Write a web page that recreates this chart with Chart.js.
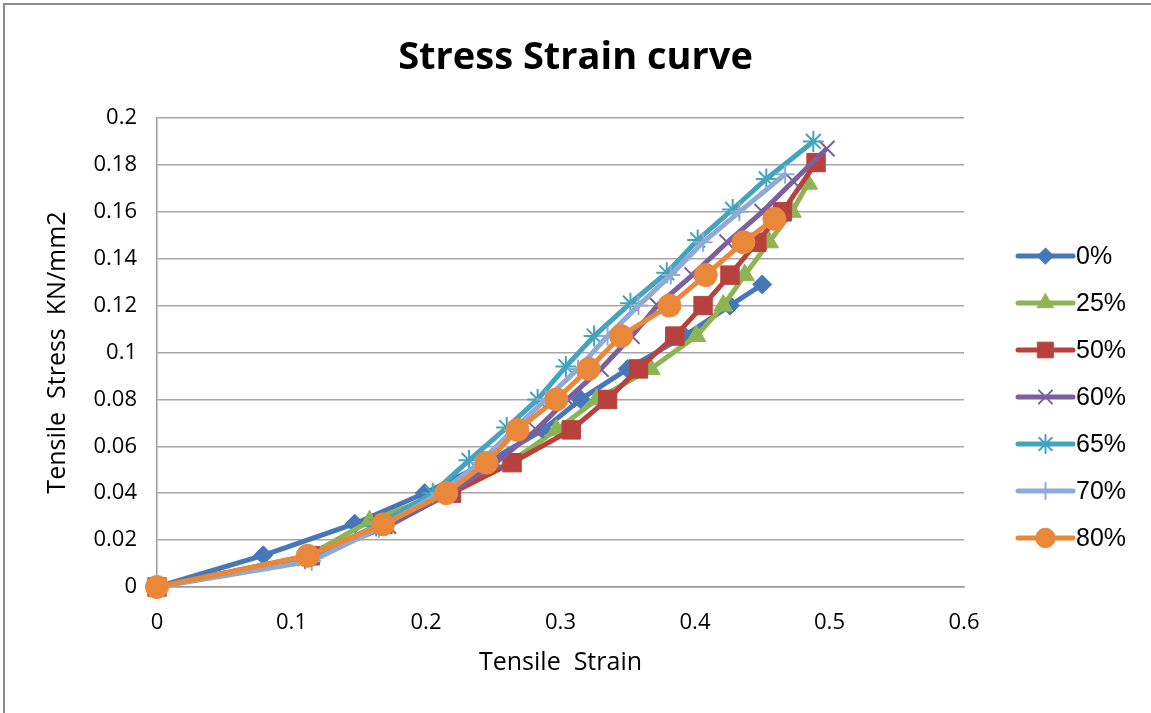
<!DOCTYPE html>
<html>
<head>
<meta charset="utf-8">
<script src="https://cdn.jsdelivr.net/npm/chart.js@4/dist/chart.umd.min.js"></script>
<style>
  html, body { margin: 0; padding: 0; background: #fff; }
  #wrap { width: 1151px; height: 713px; }
</style>
</head>
<body>
<div id="wrap"><canvas id="stressChart" width="1151" height="713"></canvas></div>
<script>
// series names
const seriesNames = ['0%', '25%', '50%', '60%', '65%', '70%', '80%'];

// strain (x) and stress (y)
const strain0 = [0, 0.079, 0.147, 0.199, 0.245, 0.287, 0.315, 0.350, 0.392, 0.426, 0.450];
const stress0 = [0, 0.0135, 0.027, 0.040, 0.053, 0.067, 0.080, 0.093, 0.107, 0.120, 0.129];

const strain25 = [0, 0.112, 0.158, 0.212, 0.262, 0.297, 0.327, 0.367, 0.401, 0.421, 0.437, 0.455, 0.472, 0.484];
const stress25 = [0, 0.0133, 0.028, 0.040, 0.053, 0.067, 0.080, 0.093, 0.107, 0.120, 0.133, 0.147, 0.160, 0.172];

const strain50 = [0, 0.114, 0.168, 0.219, 0.264, 0.308, 0.335, 0.358, 0.385, 0.406, 0.426, 0.446, 0.465, 0.490];
const stress50 = [0, 0.0133, 0.0267, 0.040, 0.053, 0.067, 0.080, 0.093, 0.107, 0.120, 0.133, 0.147, 0.160, 0.181];

const strain60 = [0, 0.115, 0.172, 0.218, 0.252, 0.282, 0.305, 0.330, 0.353, 0.372, 0.398, 0.424, 0.450, 0.473, 0.498];
const stress60 = [0, 0.013, 0.026, 0.040, 0.053, 0.067, 0.080, 0.093, 0.107, 0.120, 0.133, 0.147, 0.160, 0.173, 0.187];

const strain65 = [0, 0.110, 0.163, 0.205, 0.232, 0.260, 0.283, 0.304, 0.325, 0.352, 0.379, 0.402, 0.428, 0.453, 0.488];
const stress65 = [0, 0.012, 0.026, 0.040, 0.054, 0.068, 0.080, 0.094, 0.107, 0.121, 0.134, 0.148, 0.161, 0.174, 0.190];

const strain70 = [0, 0.115, 0.165, 0.210, 0.240, 0.265, 0.289, 0.313, 0.335, 0.358, 0.382, 0.406, 0.433, 0.467];
const stress70 = [0, 0.011, 0.025, 0.040, 0.053, 0.067, 0.080, 0.093, 0.107, 0.120, 0.133, 0.147, 0.160, 0.176];

const strain80 = [0, 0.112, 0.168, 0.215, 0.245, 0.268, 0.297, 0.321, 0.345, 0.381, 0.408, 0.436, 0.459];
const stress80 = [0, 0.0133, 0.0267, 0.040, 0.053, 0.067, 0.080, 0.093, 0.107, 0.120, 0.133, 0.147, 0.157];

const xTicks = [0, 0.1, 0.2, 0.3, 0.4, 0.5, 0.6];
const yTicks = [0, 0.02, 0.04, 0.06, 0.08, 0.1, 0.12, 0.14, 0.16, 0.18, 0.2];

const allStrain = [strain0, strain25, strain50, strain60, strain65, strain70, strain80];
const allStress = [stress0, stress25, stress50, stress60, stress65, stress70, stress80];

// look of each series (colour, marker)
const styles = [
    { color: '#4677B8', pointStyle: 'rectRot', radius: 9.5 },
    { color: '#8DB453', pointStyle: 'triangle', radius: 11 },
    { color: '#B8413E', pointStyle: 'rect', radius: 13 },
    { color: '#7C5F9F', pointStyle: 'crossRot', radius: 11 },
    { color: '#44A4BE', pointStyle: 'star', radius: 10.5 },
    { color: '#91AAD4', pointStyle: 'cross', radius: 9.5 },
    { color: '#E9873A', pointStyle: 'circle', radius: 11.5 },
];

const baseFont = '"Open Sans", Lato, sans-serif';
const tickFont = { family: baseFont, size: 22 };

const datasets = seriesNames.map((name, i) => {
    const st = styles[i];
    const stroked = ['crossRot', 'star', 'cross'].includes(st.pointStyle);
    return {
        label: name,
        data: allStrain[i].map((x, j) => ({ x: x, y: allStress[i][j] })),
        showLine: true,
        clip: 20,
        borderColor: st.color,
        backgroundColor: st.color,
        borderWidth: 5,
        pointStyle: st.pointStyle,
        pointRadius: st.radius,
        pointBackgroundColor: st.color,
        pointBorderColor: st.color,
        pointBorderWidth: stroked ? 2 : 1,
        tension: 0,
        order: seriesNames.length - i,
    };
});

// legend on the right: short line with the marker, then the name
const sideLegend = {
    id: 'sideLegend',
    afterDraw(chart) {
        const ctx = chart.ctx;
        const x0 = 1018, x1 = 1073, top = 256, step = 47;
        ctx.save();
        chart.data.datasets.forEach((ds, i) => {
            const y = top + i * step;
            ctx.strokeStyle = ds.borderColor;
            ctx.lineWidth = 5;
            ctx.lineCap = 'round';
            ctx.beginPath();
            ctx.moveTo(x0, y);
            ctx.lineTo(x1, y);
            ctx.stroke();
            ctx.fillStyle = ds.pointBackgroundColor;
            ctx.strokeStyle = ds.pointBorderColor;
            ctx.lineWidth = ds.pointBorderWidth;
            Chart.helpers.drawPoint(ctx, {
                pointStyle: ds.pointStyle,
                radius: ds.pointRadius * 0.85,
                rotation: 0,
                borderWidth: ds.pointBorderWidth,
            }, (x0 + x1) / 2, y);
            ctx.fillStyle = '#000';
            ctx.font = '25px "Liberation Sans", Arial, sans-serif';
            ctx.textBaseline = 'middle';
            ctx.textAlign = 'left';
            ctx.fillText(ds.label, x1 + 3, y + 1);
        });
        ctx.restore();
    },
};

// thin grey frame round the chart
const frame = {
    id: 'frame',
    beforeDraw(chart) {
        const ctx = chart.ctx;
        ctx.save();
        ctx.strokeStyle = '#8c8c8c';
        ctx.lineWidth = 2;
        ctx.strokeRect(4, 4, 2000, 2000);
        ctx.restore();
    },
};

const ctx = document.getElementById('stressChart').getContext('2d');
const stressChart = new Chart(ctx, {
    type: 'scatter',
    data: { datasets: datasets },
    plugins: [frame, sideLegend],
    options: {
        responsive: false,
        animation: false,
        layout: { padding: 0 },
        plugins: {
            legend: { display: false },
            tooltip: { enabled: false },
            title: {
                display: true,
                text: 'Stress Strain curve',
                color: '#000',
                font: { family: baseFont, size: 38, weight: 'bold', lineHeight: 1.2 },
                padding: { top: 35, bottom: 37.4 },
            },
        },
        scales: {
            x: {
                type: 'linear',
                min: 0,
                max: 0.6,
                afterFit(scale) { scale.height = 126; },
                afterBuildTicks(scale) { scale.ticks = xTicks.map(v => ({ value: v })); },
                ticks: {
                    color: '#000',
                    font: tickFont,
                    padding: 23,
                    callback: v => String(Number(v.toFixed(2))),
                },
                grid: { display: false, drawTicks: false },
                border: { display: true, color: '#9a9a9a', width: 1.5 },
                title: {
                    display: true,
                    text: 'Tensile  Strain',
                    color: '#000',
                    font: { family: baseFont, size: 25 },
                    padding: { bottom: 35 },
                },
            },
            y: {
                type: 'linear',
                min: 0,
                max: 0.2,
                afterFit(scale) { scale.width = 157; },
                afterBuildTicks(scale) { scale.ticks = yTicks.map(v => ({ value: v })); },
                ticks: {
                    color: '#000',
                    font: tickFont,
                    padding: 20,
                    callback: v => String(Number(v.toFixed(2))),
                },
                grid: { color: '#a6a6a6', lineWidth: 1.5, drawTicks: false },
                border: { display: true, color: '#9a9a9a', width: 1.5 },
                title: {
                    display: true,
                    text: 'Tensile  Stress  KN/mm2',
                    color: '#000',
                    font: { family: baseFont, size: 25 },
                    padding: { top: 43 },
                },
            },
            // empty strip on the right that holds the legend
            legendSpace: {
                type: 'linear',
                position: 'right',
                display: true,
                afterFit(scale) { scale.width = 187; },
                ticks: { display: false },
                grid: { display: false, drawTicks: false },
                border: { display: false },
            },
        },
    },
});
</script>
</body>
</html>
